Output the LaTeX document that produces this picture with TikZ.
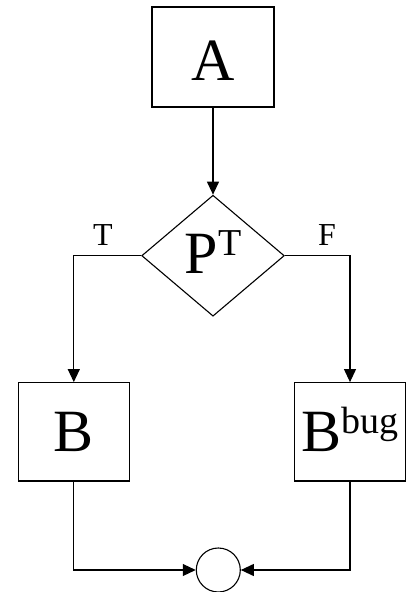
\documentclass[tikz,border=0pt]{standalone}
\usepackage{fontspec}
\setmainfont{Liberation Serif}
\usetikzlibrary{shapes.geometric,arrows.meta}
\begin{document}
\begin{tikzpicture}[x=1pt,y=-1pt,
  line width=1.1pt,
  big/.style={font=\fontsize{60}{60}\selectfont},
  block/.style={draw,rectangle,inner sep=0pt,big},
  decision/.style={draw,diamond,inner sep=0pt,big},
  joint/.style={draw,circle,inner sep=0pt,minimum size=44pt},
  branch/.style={font=\fontsize{32}{32}\selectfont,inner sep=0pt,anchor=base},
  flow/.style={-{Triangle[length=13pt,width=12pt]}}
]
\newcommand{\supx}[1]{\raisebox{18pt}{\fontsize{38}{38}\selectfont #1}}
\useasboundingbox (0,0) rectangle (414,592);

\node[block,minimum width=122pt,minimum height=100pt,text height=46pt,text depth=0pt] (a) at (213,57) {A};
\node[decision,minimum width=142.6pt,minimum height=121pt,text height=35pt,text depth=0pt] (p) at (213,255.7) {P\supx{T}};
\node[block,minimum width=111pt,minimum height=98.3pt,text height=40pt,text depth=0pt] (b) at (73.8,431.8) {B};
\node[block,minimum width=111.4pt,minimum height=98.3pt,text height=40pt,text depth=0pt] (bb) at (350,431.8) {B\supx{bug}};
\node[joint] (m) at (218.3,570) {};

\node[branch] (t) at (103,245) {T};
\node[branch] (f) at (327,245) {F};

\draw[flow] (a.south) -- (p.north);
\draw[flow] (p.west) -| (b.north);
\draw[flow] (p.east) -| (bb.north);
\draw[flow] (b.south) |- (m.west);
\draw[flow] (bb.south) |- (m.east);
\end{tikzpicture}
\end{document}
